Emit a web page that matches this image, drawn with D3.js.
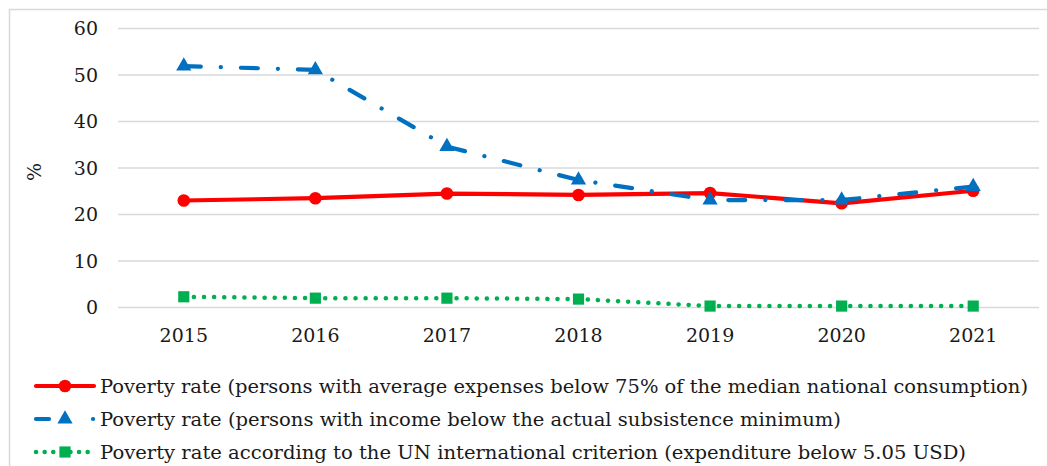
<!DOCTYPE html>
<html>
<head>
<meta charset="utf-8">
<script src="https://cdn.jsdelivr.net/npm/d3@7"></script>
<style>
  html, body { margin: 0; padding: 0; background: #fff; }
  svg { display: block; }
  text { font-family: "DejaVu Serif", "Liberation Serif", serif; fill: #1a1a1a; }
</style>
</head>
<body>
<svg id="chart" width="1047" height="466"></svg>
<script>
// Poverty rate series, %
const years = ["2015", "2016", "2017", "2018", "2019", "2020", "2021"];
const medianConsumption = [22.9, 23.4, 24.4, 24.1, 24.5, 22.3, 25.0];
const subsistenceMinimum = [51.8, 51.0, 34.5, 27.3, 23.0, 23.0, 25.9];
const unCriterion = [2.2, 1.9, 1.9, 1.7, 0.2, 0.2, 0.2];
const yTicks = [0, 10, 20, 30, 40, 50, 60];
const seriesNames = [
  "Poverty rate (persons with average expenses below 75% of the median national consumption)",
  "Poverty rate (persons with income below the actual subsistence minimum)",
  "Poverty rate according to the UN international criterion (expenditure below 5.05 USD)"
];

const svg = d3.select("#chart");

// chart frame
svg.append("rect")
  .attr("x", 9.5).attr("y", 9.5)
  .attr("width", 1045).attr("height", 470)
  .attr("fill", "none").attr("stroke", "#d9d9d9").attr("stroke-width", 1.5);

const plot = { left: 118, right: 1039, top: 28, bottom: 307 };

const x = d3.scaleBand().domain(years).range([plot.left, plot.right]);
const xc = d => x(d) + x.bandwidth() / 2;
const y = d3.scaleLinear().domain([0, 60]).range([plot.bottom, plot.top]);

// gridlines
const yAxis = d3.axisLeft(y).tickValues(yTicks).tickSize(-(plot.right - plot.left)).tickPadding(20);
const gy = svg.append("g").attr("transform", `translate(${plot.left},0)`).call(yAxis);
gy.select(".domain").remove();
gy.selectAll(".tick line").attr("stroke", "#d9d9d9").attr("stroke-width", 1.6);
gy.selectAll(".tick text")
  .attr("font-size", 19).attr("font-family", "DejaVu Serif, serif")
  .attr("fill", "#1a1a1a").attr("dy", "0.35em");

// x axis labels
const xAxis = d3.axisBottom(x).tickSize(0).tickPadding(22);
const gx = svg.append("g").attr("transform", `translate(0,${plot.bottom})`).call(xAxis);
gx.select(".domain").remove();
gx.selectAll(".tick text")
  .attr("font-size", 19).attr("font-family", "DejaVu Serif, serif")
  .attr("fill", "#1a1a1a");

// y axis title
svg.append("text")
  .attr("transform", "translate(41,172) rotate(-90)")
  .attr("text-anchor", "middle")
  .attr("font-size", 19)
  .text("%");

const series = [
  { values: medianConsumption, color: "#ff0000", dash: null, legendDash: null, width: 4.2, marker: "circle" },
  { values: subsistenceMinimum, color: "#0070c0", dash: "17,20,0.1,20", legendDash: "13,44,0.1,100", width: 4.2, marker: "triangle" },
  { values: unCriterion, color: "#00b050", dash: "0.1,10", legendDash: "0.1,8.5", width: 4.5, marker: "square" }
];

const line = d3.line().x((d, i) => xc(years[i])).y(d => y(d));

const symbolFor = m => m === "circle" ? d3.symbolCircle : m === "triangle" ? d3.symbolTriangle : d3.symbolSquare;
const sizeFor = m => m === "circle" ? 125 : m === "triangle" ? 100 : 125;

// draw lines back to front: green, red, blue on top
[2, 0, 1].forEach(k => {
  const s = series[k];
  svg.append("path")
    .datum(s.values)
    .attr("d", line)
    .attr("fill", "none")
    .attr("stroke", s.color)
    .attr("stroke-width", s.width)
    .attr("stroke-linecap", "round")
    .attr("stroke-linejoin", "round")
    .attr("stroke-dasharray", s.dash);
  svg.append("g").selectAll("path")
    .data(s.values)
    .join("path")
    .attr("transform", (d, i) => `translate(${xc(years[i])},${y(d)})`)
    .attr("d", d3.symbol().type(symbolFor(s.marker)).size(sizeFor(s.marker)))
    .attr("fill", s.color);
});

// legend
const legendY = [386, 419, 452];
const legendWidths = [928, 741, 866];
const lg = svg.append("g");
series.forEach((s, i) => {
  const row = lg.append("g").attr("transform", `translate(0,${legendY[i]})`);
  row.append("line")
    .attr("x1", 36).attr("x2", 94)
    .attr("y1", 0).attr("y2", 0)
    .attr("stroke", s.color)
    .attr("stroke-width", s.width)
    .attr("stroke-linecap", "round")
    .attr("stroke-dasharray", s.legendDash);
  row.append("path")
    .attr("transform", "translate(65,0)")
    .attr("d", d3.symbol().type(symbolFor(s.marker)).size(sizeFor(s.marker)))
    .attr("fill", s.color);
  row.append("text")
    .attr("x", 100).attr("y", 0).attr("dy", "0.35em")
    .attr("font-size", 19)
    .attr("textLength", legendWidths[i])
    .attr("lengthAdjust", "spacingAndGlyphs")
    .text(seriesNames[i]);
});
</script>
</body>
</html>
